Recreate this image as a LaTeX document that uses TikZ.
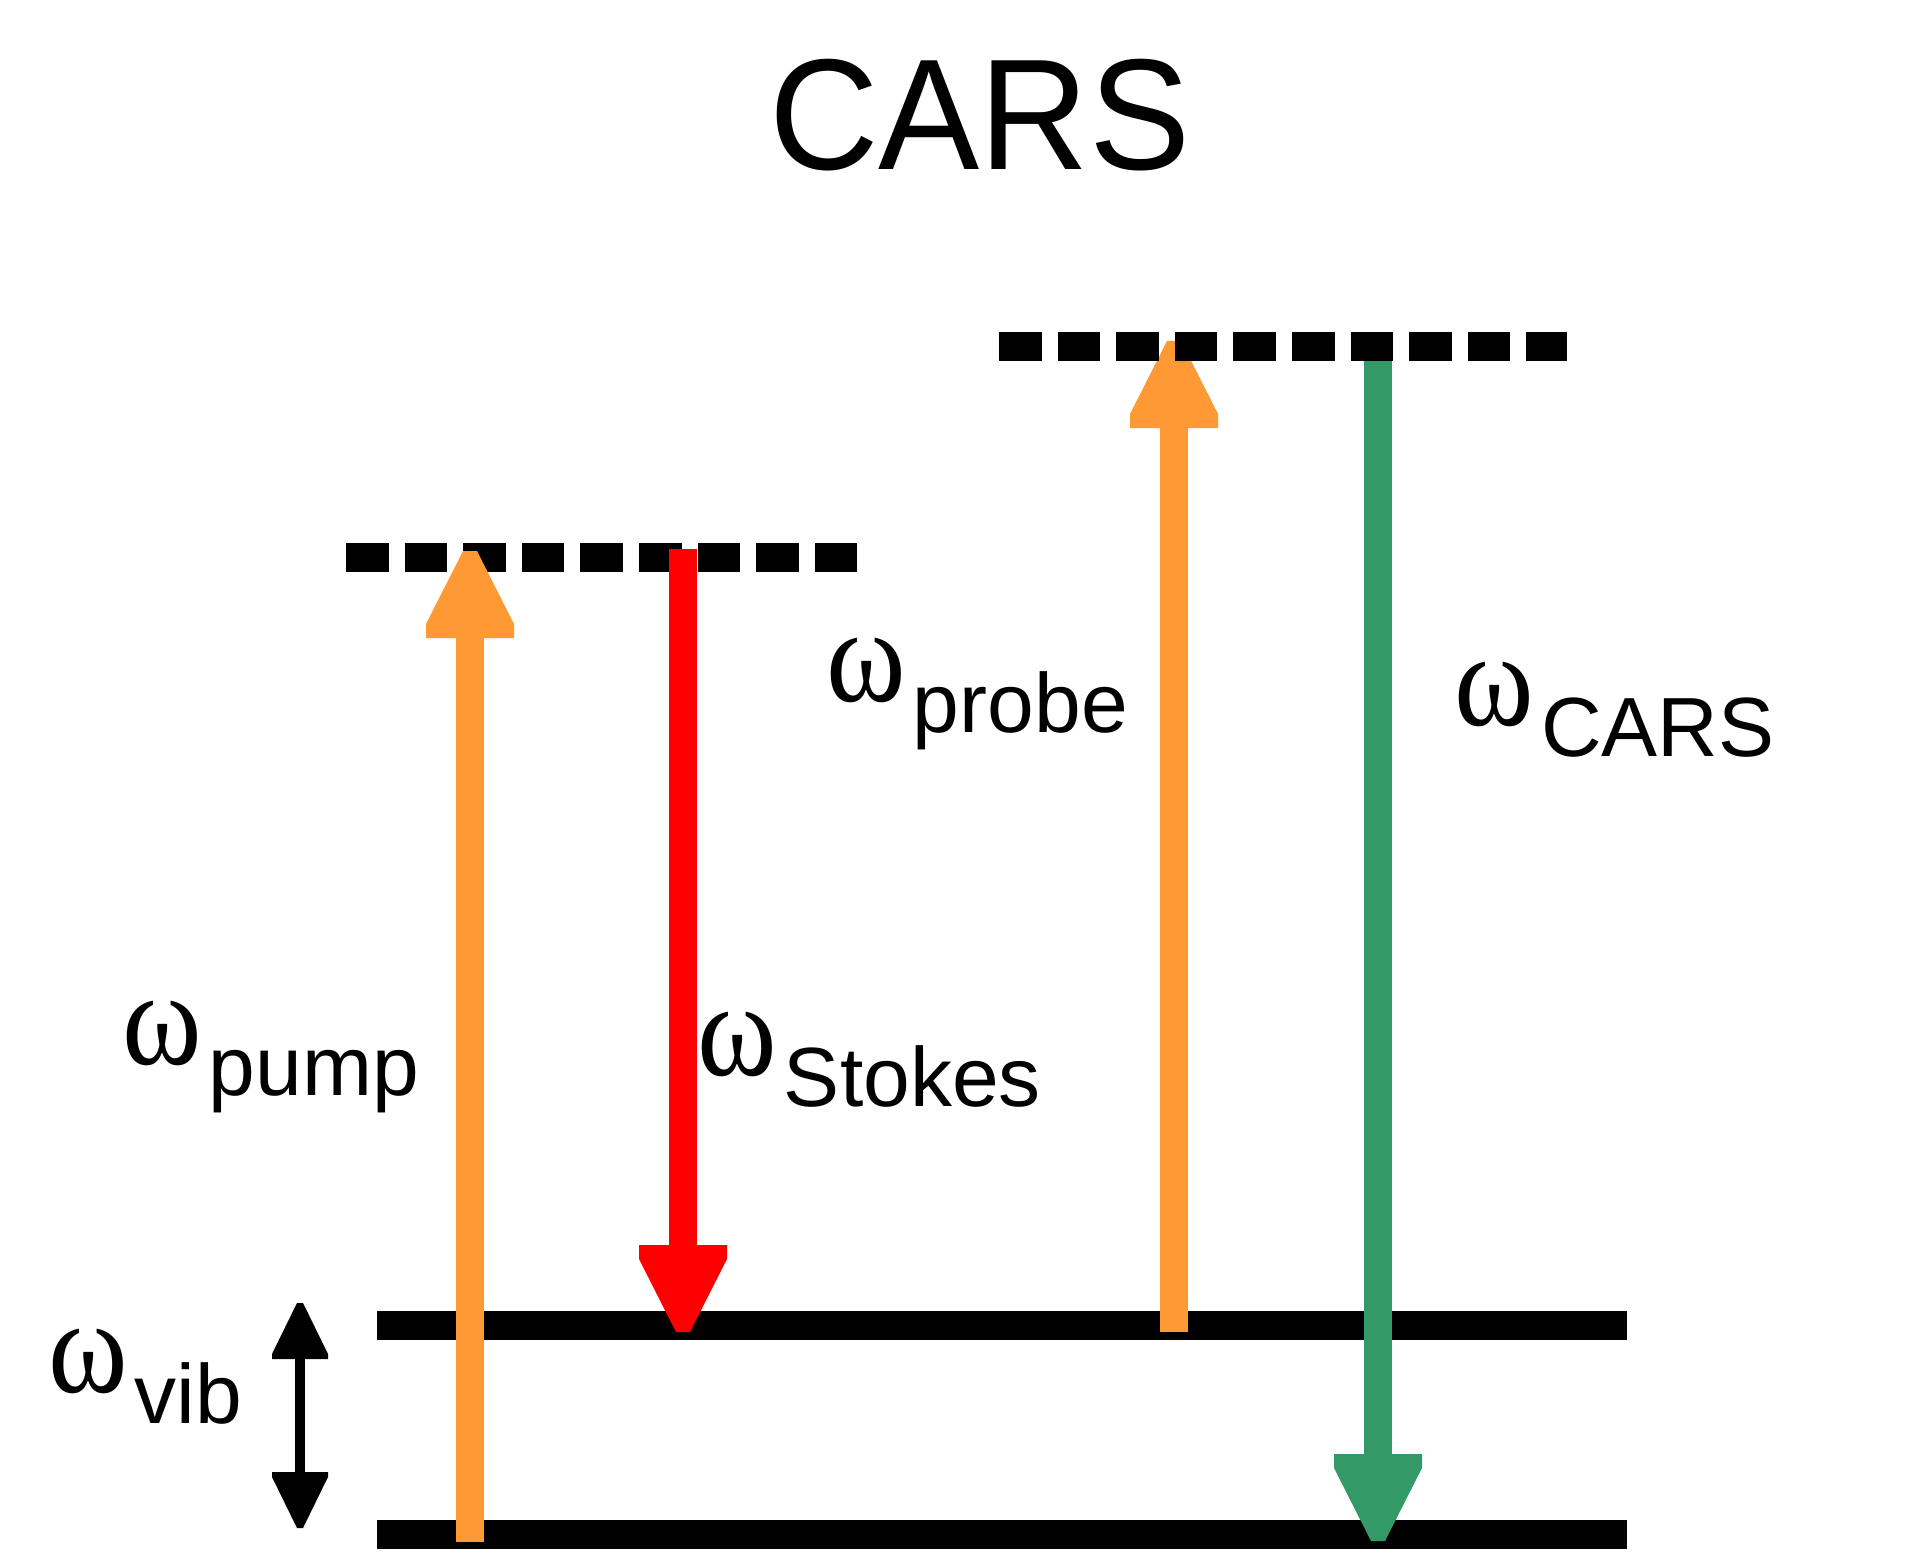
\documentclass[tikz,border=0pt]{standalone}
\usepackage{fontspec}
\setmainfont{Liberation Sans}
\newfontfamily\greekfont{Liberation Serif}

\definecolor{pumporange}{RGB}{255,153,51}
\definecolor{stokesred}{RGB}{255,0,0}
\definecolor{carsgreen}{RGB}{51,153,102}

\newcommand{\freq}[1]{\scalebox{0.93}[1.04]{\greekfont\fontsize{65}{65}\selectfont ω}\kern3.5pt\raisebox{-15.5pt}{\fontsize{42}{42}\selectfont #1}}

\begin{document}
\begin{tikzpicture}[
        x=0.5pt, y=-0.5pt,
        level/.style={line width=14.5pt},
        virtual/.style={level, dash pattern=on 21.3pt off 8pt},
        beam/.style={line width=14pt, shorten >=38pt},
        freqlabel/.style={anchor=base west, inner sep=0pt},
        beamhead/.pic={\path[pic actions] (-7,0) -- (7,0) -- (44,73) -- (44,87)
            -- (-44,87) -- (-44,73) -- cycle;},
        vibhead/.pic={\path[pic actions] (-3,0) -- (3,0) -- (28,51) -- (28,56)
            -- (-28,56) -- (-28,51) -- cycle;}
    ]
    \useasboundingbox (0,0) rectangle (1920,1556);

    \node[anchor=base, inner sep=0pt, xscale=0.96, transform shape,
        font=\fontsize{79}{79}\selectfont] (title) at (980,170) {CARS};

    \draw[virtual] (346,557) -- (861,557);
    \draw[level] (377,1325) -- (1627,1325);
    \draw[level] (377,1534) -- (1627,1534);

    \coordinate (pumpfrom) at (470,1542);
    \coordinate (pumpto) at (470,551);
    \coordinate (stokesfrom) at (683,549);
    \coordinate (stokesto) at (683,1332);
    \coordinate (probefrom) at (1174,1332);
    \coordinate (probeto) at (1174,341);
    \coordinate (carsfrom) at (1378,350);
    \coordinate (carsto) at (1378,1541);
    \coordinate (vibtop) at (300,1303);
    \coordinate (vibbot) at (300,1528);

    \draw[beam, pumporange] (pumpfrom) -- (pumpto);
    \pic[fill=pumporange] at (pumpto) {beamhead};
    \draw[beam, stokesred] (stokesfrom) -- (stokesto);
    \pic[fill=stokesred, rotate=180] at (stokesto) {beamhead};
    \draw[beam, pumporange] (probefrom) -- (probeto);
    \pic[fill=pumporange] at (probeto) {beamhead};
    \draw[beam, carsgreen] (carsfrom) -- (carsto);
    \pic[fill=carsgreen, rotate=180] at (carsto) {beamhead};

    \draw[line width=5pt, shorten <=25pt, shorten >=25pt] (vibtop) -- (vibbot);
    \pic[fill=black] at (vibtop) {vibhead};
    \pic[fill=black, rotate=180] at (vibbot) {vibhead};

    \draw[virtual] (999,347) -- (1567,347);

    \node[freqlabel] (pumplabel) at (122,1064) {\freq{pump}};
    \node[freqlabel] (stokeslabel) at (697,1075) {\freq{Stokes}};
    \node[freqlabel] (probelabel) at (826,701) {\freq{probe}};
    \node[freqlabel] (carslabel) at (1454,725) {\freq{CARS}};
    \node[freqlabel] (viblabel) at (48,1392) {\freq{vib}};
\end{tikzpicture}
\end{document}
